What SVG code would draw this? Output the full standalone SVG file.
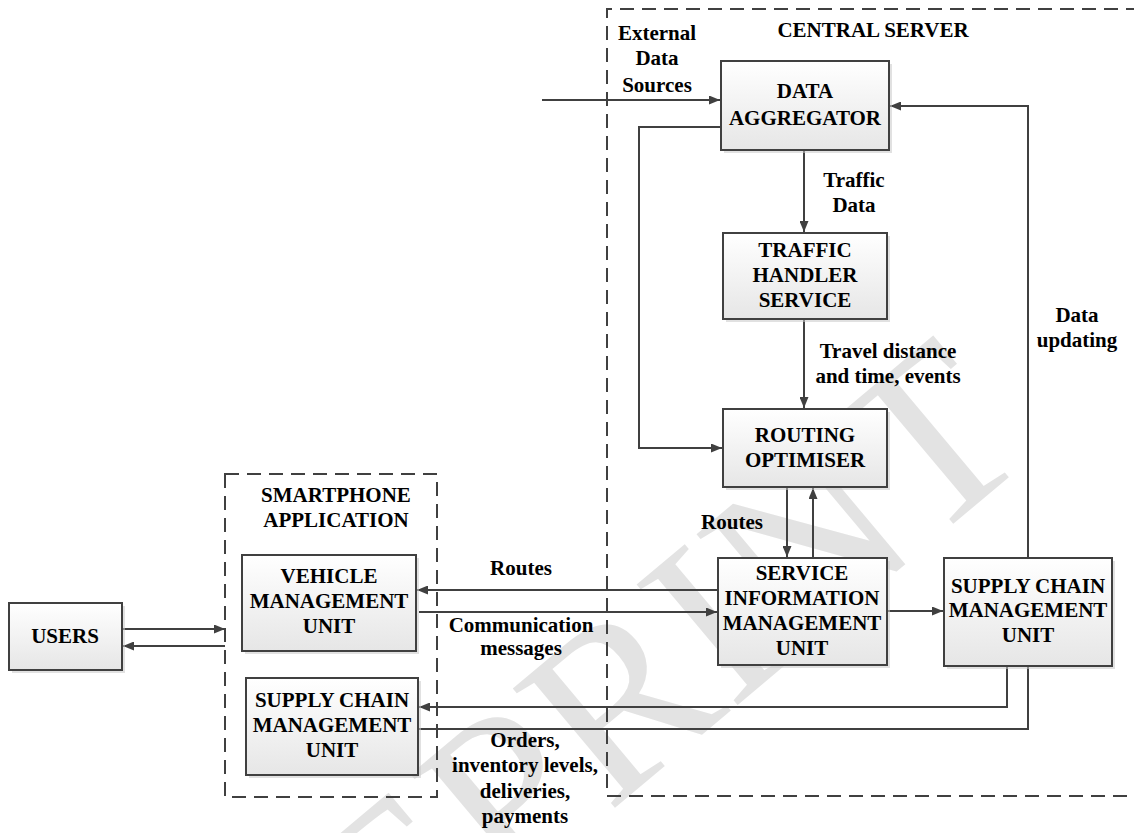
<svg xmlns="http://www.w3.org/2000/svg" width="1134" height="833" viewBox="0 0 1134 833">
  <style>
    .box { fill: url(#boxFill); stroke: #404040; stroke-width: 2; }
    .shadow { fill: #c8c8c8; opacity: 0.55; }
    .lbl { font-family: "Liberation Serif", "Times New Roman", serif; font-weight: bold; font-size: 21px; fill: #000; text-anchor: middle; }
    .wire { fill: none; stroke: #404040; stroke-width: 2; }
    .arrow { marker-end: url(#head); }
    .group { fill: none; stroke: #404040; stroke-width: 2; stroke-dasharray: 14 8; }
    .mark { font-family: "Liberation Serif", "Times New Roman", serif; font-size: 240px; fill: #e3e3e3; }
  </style>
  <defs>
    <linearGradient id="boxFill" x1="0" y1="0" x2="0" y2="1">
      <stop offset="0" stop-color="#ffffff"/>
      <stop offset="1" stop-color="#e6e6e6"/>
    </linearGradient>
    <marker id="head" markerUnits="userSpaceOnUse" markerWidth="11" markerHeight="9" refX="11" refY="4.5" orient="auto">
      <path d="M0,0 L11,4.5 L0,9 z" fill="#404040"/>
    </marker>
  </defs>

  <rect width="1134" height="833" fill="#ffffff"/>

  <!-- background watermark -->
  <text class="mark" transform="translate(169,1182) rotate(-40)">PREPRINT</text>

  <!-- grouping frames -->
  <g id="central-server">
    <path class="group" d="M1140,9 H607 V796 H1140"/>
    <text class="lbl" x="873" y="37">CENTRAL SERVER</text>
  </g>
  <g id="smartphone-application">
    <rect class="group" x="225" y="474" width="212" height="323"/>
    <text class="lbl" x="336" y="502">SMARTPHONE</text>
    <text class="lbl" x="336" y="527">APPLICATION</text>
  </g>

  <!-- connectors -->
  <g id="connectors">
    <path class="wire arrow" d="M542,100 H720"/>
    <path class="wire arrow" d="M721,127 H639 V448 H722"/>
    <path class="wire arrow" d="M804,150 V232"/>
    <path class="wire arrow" d="M804,319 V408"/>
    <path class="wire arrow" d="M787,487 V557"/>
    <path class="wire arrow" d="M813,558 V488"/>
    <path class="wire arrow" d="M718,590 H417"/>
    <path class="wire arrow" d="M419,612 H717"/>
    <path class="wire arrow" d="M887,611 H943"/>
    <path class="wire arrow" d="M1007,666 V707 H419"/>
    <path class="wire arrow" d="M419,729 H1028 V106 H890"/>
    <path class="wire arrow" d="M122,629 H225"/>
    <path class="wire arrow" d="M225,646 H123"/>

    <text class="lbl" x="657" y="40">External</text>
    <text class="lbl" x="657" y="65">Data</text>
    <text class="lbl" x="657" y="92">Sources</text>
    <text class="lbl" x="854" y="187">Traffic</text>
    <text class="lbl" x="854" y="212">Data</text>
    <text class="lbl" x="888" y="358">Travel distance</text>
    <text class="lbl" x="888" y="383">and time, events</text>
    <text class="lbl" x="732" y="529">Routes</text>
    <text class="lbl" x="521" y="575">Routes</text>
    <text class="lbl" x="521" y="632">Communication</text>
    <text class="lbl" x="521" y="655">messages</text>
    <text class="lbl" x="1077" y="322">Data</text>
    <text class="lbl" x="1077" y="347">updating</text>
    <text class="lbl" x="525" y="747">Orders,</text>
    <text class="lbl" x="525" y="772">inventory levels,</text>
    <text class="lbl" x="525" y="798">deliveries,</text>
    <text class="lbl" x="525" y="823">payments</text>
  </g>

  <!-- nodes -->
  <g id="data-aggregator">
    <rect class="shadow" x="724" y="64" width="168" height="89"/>
    <rect class="box" x="721" y="61" width="168" height="89"/>
    <text class="lbl" x="805" y="98">DATA</text>
    <text class="lbl" x="805" y="125">AGGREGATOR</text>
  </g>
  <g id="traffic-handler-service">
    <rect class="shadow" x="726" y="236" width="164" height="86"/>
    <rect class="box" x="723" y="233" width="164" height="86"/>
    <text class="lbl" x="805" y="257">TRAFFIC</text>
    <text class="lbl" x="805" y="282">HANDLER</text>
    <text class="lbl" x="805" y="307">SERVICE</text>
  </g>
  <g id="routing-optimiser">
    <rect class="shadow" x="726" y="412" width="164" height="78"/>
    <rect class="box" x="723" y="409" width="164" height="78"/>
    <text class="lbl" x="805" y="442">ROUTING</text>
    <text class="lbl" x="805" y="467">OPTIMISER</text>
  </g>
  <g id="service-information-management-unit">
    <rect class="shadow" x="721" y="561" width="169" height="107"/>
    <rect class="box" x="718" y="558" width="169" height="107"/>
    <text class="lbl" x="802" y="580">SERVICE</text>
    <text class="lbl" x="802" y="605">INFORMATION</text>
    <text class="lbl" x="802" y="630">MANAGEMENT</text>
    <text class="lbl" x="802" y="655">UNIT</text>
  </g>
  <g id="server-supply-chain-unit">
    <rect class="shadow" x="947" y="561" width="168" height="108"/>
    <rect class="box" x="944" y="558" width="168" height="108"/>
    <text class="lbl" x="1028" y="593">SUPPLY CHAIN</text>
    <text class="lbl" x="1028" y="617">MANAGEMENT</text>
    <text class="lbl" x="1028" y="642">UNIT</text>
  </g>
  <g id="users">
    <rect class="shadow" x="12" y="606" width="113" height="67"/>
    <rect class="box" x="9" y="603" width="113" height="67"/>
    <text class="lbl" x="65" y="643">USERS</text>
  </g>
  <g id="vehicle-management-unit">
    <rect class="shadow" x="245" y="558" width="174" height="96"/>
    <rect class="box" x="242" y="555" width="174" height="96"/>
    <text class="lbl" x="329" y="583">VEHICLE</text>
    <text class="lbl" x="329" y="608">MANAGEMENT</text>
    <text class="lbl" x="329" y="633">UNIT</text>
  </g>
  <g id="app-supply-chain-unit">
    <rect class="shadow" x="249" y="681" width="172" height="97"/>
    <rect class="box" x="246" y="678" width="172" height="97"/>
    <text class="lbl" x="332" y="707">SUPPLY CHAIN</text>
    <text class="lbl" x="332" y="732">MANAGEMENT</text>
    <text class="lbl" x="332" y="757">UNIT</text>
  </g>
</svg>
